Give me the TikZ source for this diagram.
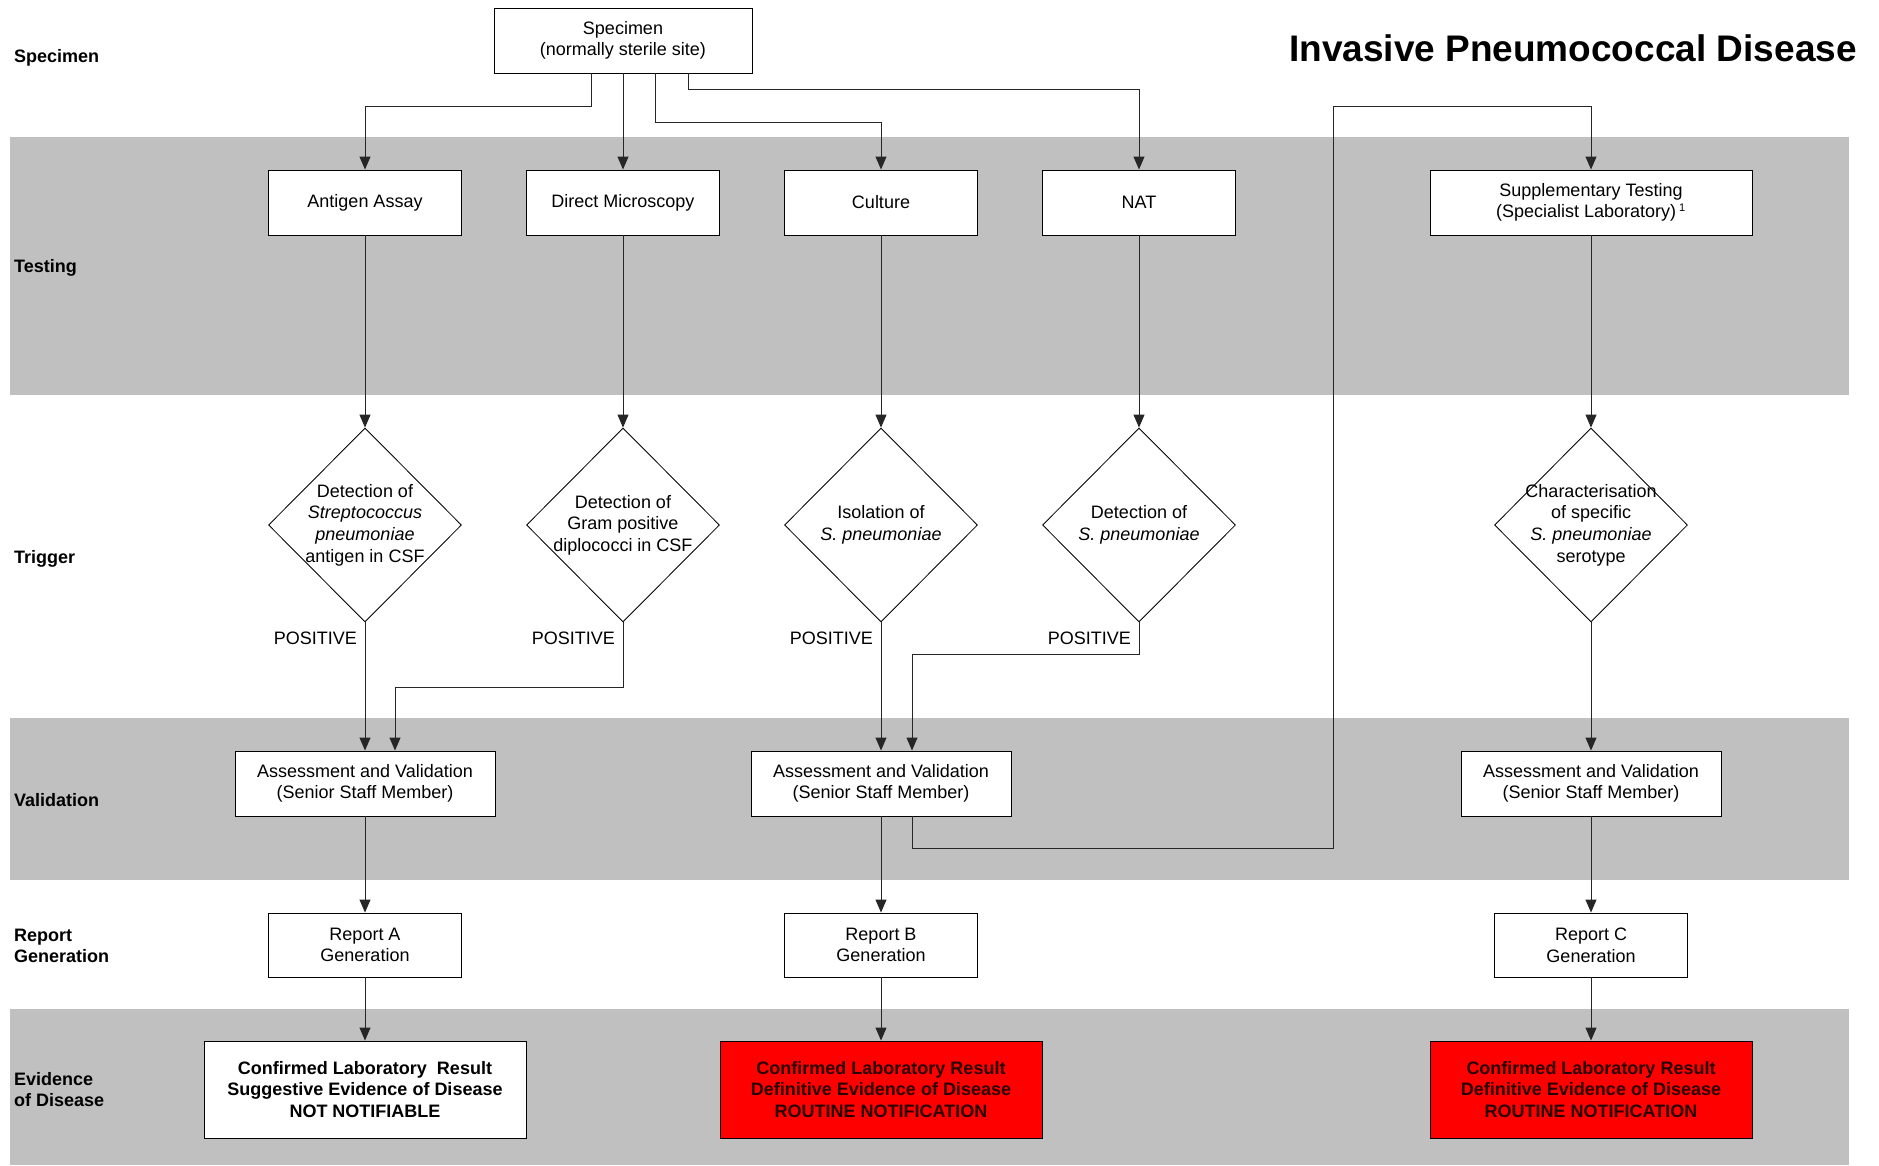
\documentclass[tikz,border=0pt]{standalone}
\usepackage{fontspec}
\setmainfont{Liberation Sans}
\usetikzlibrary{shapes.geometric,arrows.meta,calc}

\definecolor{bandgray}{RGB}{192,192,192}
\definecolor{alertred}{RGB}{255,0,0}
\definecolor{alerttext}{RGB}{40,0,0}

\tikzset{
  x=1pt, y=-1pt,
  txt/.style={font=\fontsize{18}{21.6}\selectfont, align=center, inner sep=0pt},
  box/.style={txt, draw=black, line width=0.95pt, fill=white},
  testbox/.style={box, minimum width=193pt, minimum height=65pt},
  dia/.style={diamond, draw=black, line width=0.85pt, fill=white, minimum width=193pt, minimum height=194pt, inner sep=0pt},
  valbox/.style={box, minimum width=260pt, minimum height=65pt},
  repbox/.style={box, minimum width=193pt, minimum height=64pt},
  evbox/.style={box, minimum width=322pt, minimum height=97pt, font=\fontsize{18}{21.6}\selectfont\bfseries},
  notify/.style={evbox, fill=alertred, text=alerttext},
  rowlabel/.style={font=\fontsize{18}{21}\selectfont\bfseries, anchor=west, align=left, inner sep=0pt},
  poslabel/.style={txt, anchor=east},
  arr/.style={draw=black!85, line width=1pt, -{Triangle[length=13pt,width=11pt]}},
}

\begin{document}
\begin{tikzpicture}
% canvas and shaded row bands
\fill[white] (0,0) rectangle (1879,1165);
\useasboundingbox (0,0) rectangle (1879,1165);
\fill[bandgray] (10,137) rectangle (1849,395);
\fill[bandgray] (10,718) rectangle (1849,880);
\fill[bandgray] (10,1009) rectangle (1849,1165);

% title and row labels
\node[font=\fontsize{37}{40}\selectfont\bfseries, anchor=east, inner sep=0pt] (title) at (1857,48) {Invasive Pneumococcal Disease};
\node[rowlabel] (lspec) at (14,57.5) {Specimen};
\node[rowlabel] (ltest) at (14,267.5) {Testing};
\node[rowlabel] (ltrig) at (14,558.5) {Trigger};
\node[rowlabel] (lval) at (14,800.5) {Validation};
\node[rowlabel] (lrep) at (14,946) {Report\\Generation};
\node[rowlabel] (lev) at (14,1090) {Evidence\\of Disease};

% specimen
\node[box, minimum width=258pt, minimum height=65pt] (spec) at (623,40.5) {Specimen\\(normally sterile site)};

% testing
\node[testbox] (t1) at (365,202.5) {Antigen Assay};
\node[testbox] (t2) at (623,202.5) {Direct Microscopy};
\node[testbox] (t3) at (881,202.5) {Culture};
\node[testbox] (t4) at (1139,202.5) {NAT};
\node[testbox, minimum width=322pt] (t5) at (1591,202.5) {Supplementary Testing\\(Specialist Laboratory)\,\textsuperscript{\fontsize{11}{12}\selectfont 1}};

% triggers
\node[dia] (d1) at (365,525) {};
\node[dia] (d2) at (623,525) {};
\node[dia] (d3) at (881,525) {};
\node[dia] (d4) at (1139,525) {};
\node[dia] (d5) at (1591,525) {};
\node[txt] (d1t) at (d1.center) {Detection of\\\textit{Streptococcus}\\\textit{pneumoniae}\\antigen in CSF};
\node[txt] (d2t) at (d2.center) {Detection of\\Gram positive\\diplococci in CSF};
\node[txt] (d3t) at (d3.center) {Isolation of\\\textit{S. pneumoniae}};
\node[txt] (d4t) at (d4.center) {Detection of\\\textit{S. pneumoniae}};
\node[txt] (d5t) at (d5.center) {Characterisation\\of specific\\\textit{S. pneumoniae}\\serotype};

\node[poslabel] (p1) at (357,638) {POSITIVE};
\node[poslabel] (p2) at (615,638) {POSITIVE};
\node[poslabel] (p3) at (873,638) {POSITIVE};
\node[poslabel] (p4) at (1131,638) {POSITIVE};

% validation
\node[valbox] (a1) at (365,783.5) {Assessment and Validation\\(Senior Staff Member)};
\node[valbox] (a2) at (881,783.5) {Assessment and Validation\\(Senior Staff Member)};
\node[valbox] (a3) at (1591,783.5) {Assessment and Validation\\(Senior Staff Member)};

% reports
\node[repbox] (r1) at (365,945) {Report A\\Generation};
\node[repbox] (r2) at (881,945) {Report B\\Generation};
\node[repbox] (r3) at (1591,945) {Report C\\Generation};

% evidence of disease
\node[evbox] (e1) at (365,1089.5) {Confirmed Laboratory\ \ Result\\Suggestive Evidence of Disease\\NOT NOTIFIABLE};
\node[notify] (e2) at (881,1089.5) {Confirmed Laboratory Result\\Definitive Evidence of Disease\\ROUTINE NOTIFICATION};
\node[notify] (e3) at (1591,1089.5) {Confirmed Laboratory Result\\Definitive Evidence of Disease\\ROUTINE NOTIFICATION};

% bends of the routed connectors
\coordinate (j1) at (365,106);
\coordinate (j3) at (881,122);
\coordinate (j4) at (1139,89);
\coordinate (j5) at (395,687);
\coordinate (j6) at (912,654);
\coordinate (j7) at (1333,848);
\coordinate (j8) at (1333,106);

% specimen to tests
\draw[arr] ([xshift=-32pt]spec.south) |- (j1) -- (t1.north);
\draw[arr] (spec.south) -- (t2.north);
\draw[arr] ([xshift=32pt]spec.south) |- (j3) -- (t3.north);
\draw[arr] ([xshift=65pt]spec.south) |- (j4) -- (t4.north);

% tests to triggers
\draw[arr] (t1.south) -- (d1.north);
\draw[arr] (t2.south) -- (d2.north);
\draw[arr] (t3.south) -- (d3.north);
\draw[arr] (t4.south) -- (d4.north);
\draw[arr] (t5.south) -- (d5.north);

% triggers to validation
\draw[arr] (d1.south) -- (a1.north);
\draw[arr] (d2.south) |- (j5) -- (j5 |- a1.north);
\draw[arr] (d3.south) -- (a2.north);
\draw[arr] (d4.south) |- (j6) -- (j6 |- a2.north);
\draw[arr] (d5.south) -- (a3.north);

% referral to the specialist laboratory
\draw[arr] ([xshift=31pt]a2.south) |- (j7) -- (j8) -| (t5.north);

% validation to reports to evidence
\draw[arr] (a1.south) -- (r1.north);
\draw[arr] (a2.south) -- (r2.north);
\draw[arr] (a3.south) -- (r3.north);
\draw[arr] (r1.south) -- (e1.north);
\draw[arr] (r2.south) -- (e2.north);
\draw[arr] (r3.south) -- (e3.north);
\end{tikzpicture}
\end{document}
